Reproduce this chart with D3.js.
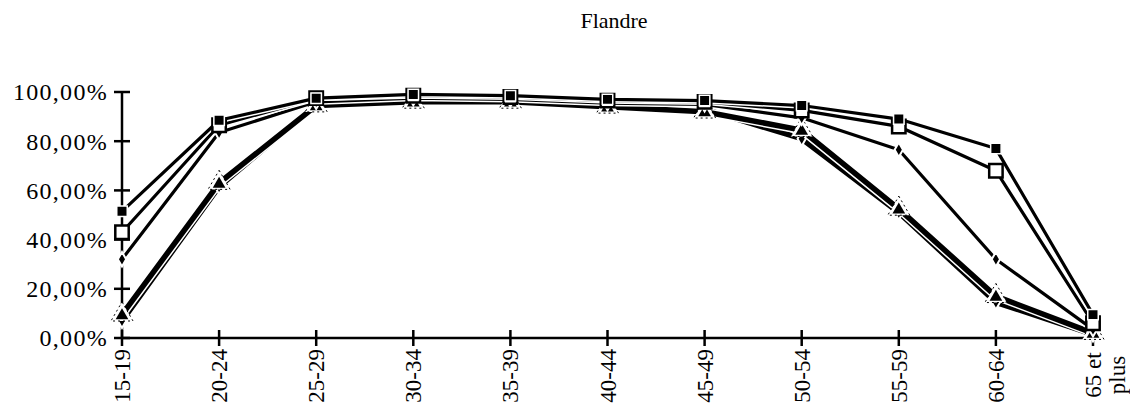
<!DOCTYPE html>
<html>
<head>
<meta charset="utf-8">
<script src="https://cdn.jsdelivr.net/npm/d3@7"></script>
<style>
  html, body { margin: 0; padding: 0; background: #fff; }
  svg { display: block; }
  text { font-family: "Liberation Serif", "Times New Roman", serif; fill: #000; }
</style>
</head>
<body>
<svg id="chart" width="1130" height="418"></svg>
<script>
// Age groups on the x axis
const ageGroups = ["15-19", "20-24", "25-29", "30-34", "35-39", "40-44", "45-49", "50-54", "55-59", "60-64", "65 et plus"];

// Activity rates (%) per age group, one list per series
const seriesA = [51.5, 88.5, 97.5, 99.0, 98.5, 97.0, 96.5, 94.5, 89.0, 77.0, 9.5];   // filled square
const seriesB = [43.0, 86.5, 97.5, 98.5, 98.0, 96.5, 96.0, 92.5, 86.0, 68.0, 6.0];   // open square
const seriesC = [32.0, 83.5, 96.0, 97.5, 97.0, 95.5, 95.0, 89.5, 76.5, 32.0, 3.5];   // filled diamond
const seriesD = [9.5, 63.0, 94.5, 96.0, 96.0, 94.0, 92.0, 84.5, 52.5, 17.0, 2.0];    // triangle, heavy line
const seriesE = [7.0, 61.5, 95.0, 96.5, 96.5, 94.5, 93.0, 81.0, 51.0, 14.5, 1.5];    // diamond, heavy line

const yTicks = [0, 20, 40, 60, 80, 100];
const chartTitle = "Flandre";

const svg = d3.select("#chart");
const margin = { left: 122, right: 37, top: 92, bottom: 80 };
const W = 1130, H = 418;

const x = d3.scalePoint().domain(ageGroups).range([margin.left, W - margin.right]);
const y = d3.scaleLinear().domain([0, 100]).range([H - margin.bottom, margin.top]);

// Title
svg.append("text")
  .attr("x", 614).attr("y", 28)
  .attr("text-anchor", "middle")
  .style("font-size", "22px")
  .text(chartTitle);

// Y axis with ticks crossing the line
const yAxis = svg.append("g").attr("transform", `translate(${margin.left},0)`);
yAxis.append("line")
  .attr("x1", 0).attr("x2", 0)
  .attr("y1", y(100)).attr("y2", y(0))
  .attr("stroke", "#000").attr("stroke-width", 2.5);
yAxis.selectAll("line.tick").data(yTicks).join("line")
  .attr("class", "tick")
  .attr("x1", -8).attr("x2", 8)
  .attr("y1", d => y(d)).attr("y2", d => y(d))
  .attr("stroke", "#000").attr("stroke-width", 2.5);
yAxis.selectAll("text").data(yTicks).join("text")
  .attr("x", -14).attr("y", d => y(d))
  .attr("dy", "0.35em")
  .attr("text-anchor", "end")
  .style("font-size", "24px")
  .style("letter-spacing", "1.3px")
  .text(d => d3.format(".2f")(d).replace(".", ",") + "%");

// X axis with ticks crossing the line
const xAxis = svg.append("g").attr("transform", `translate(0,${y(0)})`);
xAxis.append("line")
  .attr("x1", x(ageGroups[0])).attr("x2", x(ageGroups[ageGroups.length - 1]))
  .attr("y1", 0).attr("y2", 0)
  .attr("stroke", "#000").attr("stroke-width", 2.5);
xAxis.selectAll("line.tick").data(ageGroups).join("line")
  .attr("class", "tick")
  .attr("x1", d => x(d)).attr("x2", d => x(d))
  .attr("y1", -8).attr("y2", 8)
  .attr("stroke", "#000").attr("stroke-width", 2.5);

// Rotated category labels; the last one wraps onto two centred lines
const labels = xAxis.selectAll("g.lab").data(ageGroups).join("g")
  .attr("class", "lab")
  .attr("transform", d => `translate(${x(d)},11) rotate(-90)`);
labels.each(function (d) {
  const g = d3.select(this);
  if (d === "65 et plus") {
    ["65 et", "plus"].forEach((p, i) => {
      g.append("text")
        .attr("x", -26).attr("y", i * 24)
        .attr("dy", "0.35em")
        .attr("text-anchor", "middle")
        .style("font-size", "23px")
        .text(p);
    });
  } else {
    g.append("text")
      .attr("x", 0).attr("y", 0)
      .attr("dy", "0.35em")
      .attr("text-anchor", "end")
      .style("font-size", "23px")
      .text(d);
  }
});

const line = d3.line()
  .x((d, i) => x(ageGroups[i]))
  .y(d => y(d));

const plot = svg.append("g");

// Heavy lines first, then the lighter ones on top
const series = [
  { values: seriesE, width: 5.5, marker: "diamond" },
  { values: seriesD, width: 5.5, marker: "triangle" },
  { values: seriesC, width: 3.2, marker: "diamond" },
  { values: seriesB, width: 3.2, marker: "openSquare" },
  { values: seriesA, width: 3.2, marker: "square" }
];

series.forEach(s => {
  // white casing so crossing lines stay readable
  plot.append("path")
    .datum(s.values)
    .attr("d", line)
    .attr("fill", "none")
    .attr("stroke", "#fff")
    .attr("stroke-width", s.width + 3)
    .attr("stroke-linejoin", "round");
  plot.append("path")
    .datum(s.values)
    .attr("d", line)
    .attr("fill", "none")
    .attr("stroke", "#000")
    .attr("stroke-width", s.width)
    .attr("stroke-linejoin", "round");
});

// Markers
const sym = {
  square: d3.symbol().type(d3.symbolSquare).size(110),
  openSquare: d3.symbol().type(d3.symbolSquare).size(180),
  diamond: d3.symbol().type(d3.symbolDiamond).size(60),
  triangle: d3.symbol().type(d3.symbolTriangle).size(70),
  triangleHalo: d3.symbol().type(d3.symbolTriangle).size(210)
};

series.forEach(s => {
  const g = plot.append("g");
  s.values.forEach((v, i) => {
    const cx = x(ageGroups[i]), cy = y(v);
    if (s.marker === "triangle") {
      g.append("path").attr("d", sym.triangleHalo())
        .attr("transform", `translate(${cx},${cy})`)
        .attr("fill", "#fff").attr("stroke", "#000").attr("stroke-width", 1)
        .attr("stroke-dasharray", "2,3");
      g.append("path").attr("d", sym.triangle())
        .attr("transform", `translate(${cx},${cy + 1})`)
        .attr("fill", "#000");
    } else if (s.marker === "openSquare") {
      g.append("path").attr("d", sym.openSquare())
        .attr("transform", `translate(${cx},${cy})`)
        .attr("fill", "#fff").attr("stroke", "#000").attr("stroke-width", 2.5);
    } else if (s.marker === "square") {
      g.append("path").attr("d", sym.square())
        .attr("transform", `translate(${cx},${cy})`)
        .attr("fill", "#000").attr("stroke", "#fff").attr("stroke-width", 1.5);
    } else {
      g.append("path").attr("d", sym.diamond())
        .attr("transform", `translate(${cx},${cy})`)
        .attr("fill", "#000").attr("stroke", "#fff").attr("stroke-width", 2);
    }
  });
});
</script>
</body>
</html>
